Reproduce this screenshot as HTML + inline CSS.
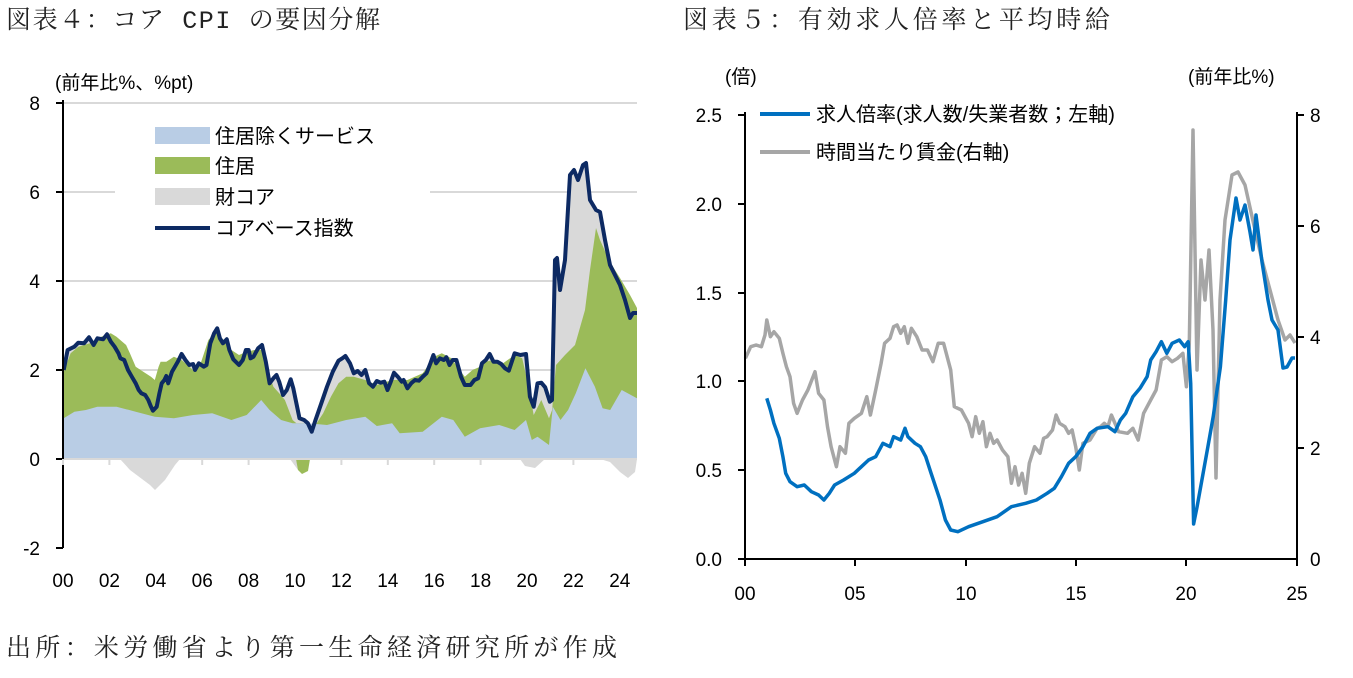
<!DOCTYPE html>
<html><head><meta charset="utf-8">
<style>
html,body{margin:0;padding:0;background:#fff;}
body{width:1353px;height:673px;overflow:hidden;position:relative;font-family:"Liberation Sans","Noto Sans CJK JP",sans-serif;}
svg text{font-family:"Liberation Sans","Noto Sans CJK JP",sans-serif;}
svg text.ser{font-family:"Liberation Mono","Noto Serif CJK SC",serif;}
</style></head><body>
<svg id="s" width="1353" height="673" viewBox="0 0 1353 673" xmlns="http://www.w3.org/2000/svg">
<text x="6" y="28" font-size="25" class="ser" fill="#222" textLength="374" lengthAdjust="spacing">図表４：コア CPI の要因分解</text>
<text x="683" y="28" font-size="25" class="ser" fill="#222" textLength="427" lengthAdjust="spacing">図表５：有効求人倍率と平均時給</text>
<text x="6" y="656" font-size="25" class="ser" fill="#222" textLength="611" lengthAdjust="spacing">出所：米労働省より第一生命経済研究所が作成</text>
<!-- left grid -->
<g stroke="#d9d9d9" stroke-width="2">
<line x1="63" y1="103" x2="637" y2="103"/><line x1="63" y1="192" x2="637" y2="192"/>
<line x1="63" y1="281" x2="637" y2="281"/><line x1="63" y1="370" x2="637" y2="370"/>
</g>
<g id="L"></g>
<line x1="63" y1="459" x2="637" y2="459" stroke="#d9d9d9" stroke-width="2"/>
<line x1="63" y1="100" x2="63" y2="548" stroke="#000" stroke-width="2"/>
<g stroke="#000" stroke-width="2"><line x1="56" y1="103" x2="63" y2="103"/><line x1="56" y1="192" x2="63" y2="192"/><line x1="56" y1="281" x2="63" y2="281"/><line x1="56" y1="370" x2="63" y2="370"/><line x1="56" y1="459" x2="63" y2="459"/><line x1="56" y1="548" x2="63" y2="548"/></g>
<g id="LT" stroke="#d9d9d9" stroke-width="2"></g>
<g font-size="19" fill="#000" text-anchor="end">
<text x="40" y="110">8</text><text x="40" y="199">6</text><text x="40" y="288">4</text><text x="40" y="377">2</text><text x="40" y="466">0</text><text x="40" y="555">-2</text>
</g>
<text x="55" y="89" font-size="19">(前年比%、%pt)</text>
<g id="LX" font-size="19" text-anchor="middle"></g>
<!-- left legend -->
<rect x="115" y="120" width="315" height="120" fill="#fff"/>
<rect x="155" y="127" width="55" height="17" fill="#b9cde5"/>
<rect x="155" y="157" width="55" height="17" fill="#9bbb59"/>
<rect x="155" y="188" width="55" height="17" fill="#d9d9d9"/>
<line x1="155" y1="228" x2="210" y2="228" stroke="#0d2a63" stroke-width="4"/>
<g font-size="20"><text x="215" y="143">住居除くサービス</text><text x="215" y="173">住居</text><text x="215" y="204">財コア</text><text x="215" y="235">コアベース指数</text></g>

<!-- right chart -->
<g id="R"></g>
<line x1="745" y1="112" x2="745" y2="559" stroke="#000" stroke-width="2"/>
<line x1="1297" y1="112" x2="1297" y2="559" stroke="#000" stroke-width="2"/>
<line x1="745" y1="559" x2="1297" y2="559" stroke="#000" stroke-width="2"/>
<g stroke="#000" stroke-width="2">
<line x1="738" y1="115" x2="745" y2="115"/><line x1="738" y1="204" x2="745" y2="204"/><line x1="738" y1="293" x2="745" y2="293"/><line x1="738" y1="381" x2="745" y2="381"/><line x1="738" y1="470" x2="745" y2="470"/><line x1="738" y1="559" x2="745" y2="559"/>
<line x1="1297" y1="115" x2="1304" y2="115"/><line x1="1297" y1="226" x2="1304" y2="226"/><line x1="1297" y1="337" x2="1304" y2="337"/><line x1="1297" y1="448" x2="1304" y2="448"/>
<line x1="745" y1="559" x2="745" y2="566"/><line x1="855" y1="559" x2="855" y2="566"/><line x1="966" y1="559" x2="966" y2="566"/><line x1="1076" y1="559" x2="1076" y2="566"/><line x1="1186" y1="559" x2="1186" y2="566"/><line x1="1297" y1="559" x2="1297" y2="566"/>
</g>
<g font-size="19" text-anchor="end">
<text x="722" y="122">2.5</text><text x="722" y="211">2.0</text><text x="722" y="300">1.5</text><text x="722" y="388">1.0</text><text x="722" y="477">0.5</text><text x="722" y="566">0.0</text>
</g>
<g font-size="19"><text x="1310" y="122">8</text><text x="1310" y="233">6</text><text x="1310" y="344">4</text><text x="1310" y="455">2</text><text x="1310" y="566">0</text></g>
<g font-size="19" text-anchor="middle"><text x="745" y="600">00</text><text x="855" y="600">05</text><text x="966" y="600">10</text><text x="1076" y="600">15</text><text x="1186" y="600">20</text><text x="1297" y="600">25</text></g>
<text x="725" y="83" font-size="19">(倍)</text>
<text x="1188" y="83" font-size="19">(前年比%)</text>
<line x1="760" y1="114" x2="810" y2="114" stroke="#0070c0" stroke-width="4"/>
<line x1="760" y1="152" x2="810" y2="152" stroke="#a6a6a6" stroke-width="4"/>
<g font-size="20"><text x="816" y="121">求人倍率(求人数/失業者数；左軸)</text><text x="816" y="159">時間当たり賃金(右軸)</text></g>
</svg>
<script>
var NS="http://www.w3.org/2000/svg";
function z1(a){return a.map(function(p){return [40+p[0]/2.613,300+p[1]/3];});}
function z2(a){return a.map(function(p){return [740+p[0]/2.8,300+p[1]/3];});}
function pts(a){return a.map(function(p){return p[0].toFixed(1)+","+p[1].toFixed(1);}).join(" ");}
function add(g,tag,attrs){var e=document.createElementNS(NS,tag);for(var k in attrs)e.setAttribute(k,attrs[k]);document.getElementById(g).appendChild(e);return e;}
function area(g,a,fill){var b=[[a[0][0],459]].concat(a).concat([[a[a.length-1][0],459]]);add(g,"polygon",{points:pts(b),fill:fill});}
var core=z1([[62,210],[72,150],[90,140],[100,128],[115,130],[128,112],[140,135],[150,115],[165,118],[175,103],[185,125],[195,140],[205,160],[210,175],[220,180],[230,210],[240,230],[250,250],[258,270],[265,280],[275,285],[283,300],[290,320],[295,332],[305,320],[312,280],[318,250],[325,240],[330,228],[335,250],[345,215],[360,185],[370,162],[380,180],[390,195],[400,192],[405,210],[415,190],[428,200],[435,195],[445,130],[455,100],[463,85],[470,115],[478,130],[488,118],[495,150],[505,178],[520,195],[530,180],[538,150],[545,150],[550,175],[558,170],[570,145],[580,135],[590,185],[600,250],[610,235],[618,225],[625,245],[635,285],[645,270],[655,238],[662,265],[670,310],[678,355],[690,360],[700,370],[710,395],[720,360],[735,310],[750,260],[765,215],[780,182],[790,175],[798,168],[810,190],[820,220],[830,213],[840,225],[850,210],[860,250],[870,260],[880,243],[890,248],[900,245],[908,270],[915,250],[925,218],[935,230],[945,245],[950,240],[960,265],[970,250],[980,240],[990,242],[1000,230],[1010,220],[1020,190],[1028,165],[1035,190],[1045,175],[1055,180],[1062,172],[1070,195],[1078,180],[1088,180],[1100,230],[1110,255],[1125,255],[1135,240],[1145,235],[1155,190],[1165,180],[1175,162],[1185,185],[1195,185],[1205,192],[1215,205],[1225,212],[1240,160],[1255,165],[1270,162],[1280,290],[1290,320],[1300,250],[1310,248],[1320,262],[1332,305]]).concat([[552,400],[555,260],[557,258],[560,290],[565,260],[570,175],[574,170],[578,180],[583,165],[586,163],[590,200],[596,210],[600,212],[605,240],[610,265],[615,275],[620,285],[625,300],[630,318],[633,313],[637,313]]);
var green=z1([[62,215],[80,160],[100,140],[130,130],[160,110],[185,100],[200,110],[215,125],[225,135],[235,160],[250,200],[270,215],[290,230],[300,240],[310,200],[315,185],[330,185],[350,170],[370,180],[400,210],[420,190],[440,120],[460,95],[480,120],[500,150],[520,165],[540,155],[560,150],[580,150],[595,210],[610,260],[625,280],[640,300],[660,360],[670,370],[690,370],[700,375],[720,375],[740,340],[760,290],[780,250],[800,230],[820,230],[850,240],[880,255],[920,240],[960,240],[1000,220],[1030,170],[1050,160],[1075,175],[1090,200],[1110,230],[1130,210],[1150,200],[1165,185],[1185,180],[1210,190],[1240,165],[1260,175],[1275,250],[1290,345],[1310,300],[1330,355],[1338,330]]).concat([[556,365],[565,355],[575,345],[585,310],[590,270],[596,228],[600,240],[610,262],[620,278],[630,295],[637,308]]);
var blue=z1([[62,355],[90,335],[120,330],[150,320],[200,320],[250,335],[300,350],[350,355],[400,345],[450,340],[500,360],[540,345],[578,300],[600,330],[630,360],[660,370],[700,370],[750,375],[800,360],[850,350],[880,378],[920,370],[940,400],[1000,395],[1050,350],[1080,360],[1110,410],[1150,385],[1200,375],[1240,390],[1270,360],[1285,420],[1300,410],[1330,435],[1340,320],[1360,360],[1380,330],[1400,280],[1425,205],[1450,260],[1470,325],[1490,330],[1520,270],[1560,295]]);
area("L",core.slice(),"#d9d9d9");
add("L","polygon",{points:pts([[63,459],[120,459],[130,470],[150,485],[155,490],[165,480],[175,465],[180,459],[290,459],[298,470],[305,472],[310,459],[520,459],[525,466],[535,468],[545,459],[600,459],[610,462],[620,472],[628,478],[635,472],[637,459]]),fill:"#d9d9d9"});
add("L","polygon",{points:pts([[296,459],[298,470],[302,474],[308,471],[310,459]]),fill:"#9bbb59"});
area("L",green,"#9bbb59");
area("L",blue,"#b9cde5");
add("L","polyline",{points:pts(core),fill:"none",stroke:"#0d2a63","stroke-width":4,"stroke-linejoin":"round"});
for(var y=0;y<=24;y+=2){var x=63+y*23.2;add("LT","line",{x1:x,y1:459,x2:x,y2:465});var t=add("LX","text",{x:x,y:587});t.textContent=(y<10?"0":"")+y;}
var gw=z2([[15,175],[30,140],[45,135],[60,140],[70,105],[75,60],[85,110],[95,95],[110,115],[120,160],[130,200],[140,230],[150,310],[160,340],[175,300],[190,270],[210,215],[220,280],[235,300],[245,380],[255,440],[270,500],[280,440],[295,460],[305,370],[320,355],[340,340],[355,290],[365,345],[380,270],[395,190],[405,130],[420,115],[430,80],[440,75],[450,100],[460,80],[470,130],[480,85],[495,110],[510,150],[525,150],[540,185],[555,130],[570,130],[590,210],[600,320],[620,330],[640,370],[650,410],[660,350],[670,400],[680,365],[690,440],[700,400],[710,430],[720,420],[735,450],[750,470],[760,550],[770,500],[780,555],[790,520],[800,580],[810,490],[825,440],[840,460],[850,415],[860,410],[875,390],[885,345],[895,370],[910,380],[920,400],[930,390],[940,440],[950,510],[960,430],[980,420],[1000,385],[1010,380],[1020,370],[1030,380],[1040,345],[1060,395],[1085,400],[1100,385],[1115,420],[1130,340],[1150,300],[1165,270],[1180,180],[1195,170],[1210,185],[1225,175],[1240,160],[1250,260],[1258,130]]).concat([[1193,130],[1197,370],[1201,260],[1205,300],[1209,250],[1213,330],[1216,478],[1220,300],[1225,220],[1232,175],[1238,172],[1245,185],[1255,230],[1262,260],[1270,290],[1278,320],[1285,340],[1290,335],[1295,343]]);
var bl=z2([[75,295],[85,330],[95,370],[110,415],[120,470],[128,520],[140,545],[160,560],[180,555],[200,575],[220,585],[235,600],[250,580],[265,555],[290,540],[320,520],[340,500],[360,480],[380,470],[400,430],[420,440],[430,410],[450,420],[462,385],[470,410],[490,430],[505,440],[520,470],[535,520],[560,600],[575,660],[590,690],[610,695],[640,680],[680,665],[720,650],[760,620],[800,610],[830,600],[860,580],[880,565],[900,530],[920,490],[940,470],[960,440],[980,400],[1000,385],[1030,380],[1050,395],[1065,360],[1080,340],[1100,290],[1120,265],[1140,230],[1150,180],[1165,155],[1180,125],[1195,160],[1210,130],[1230,120],[1245,140],[1255,125],[1262,250],[1270,672],[1280,620],[1300,500],[1310,440],[1325,350],[1345,200],[1360,0]]).concat([[1230,240],[1236,198],[1240,220],[1245,205],[1250,232],[1253,250],[1256,215],[1262,262],[1268,300],[1272,320],[1278,330],[1283,368],[1287,367],[1292,358],[1295,358]]);
add("R","polyline",{points:pts(gw),fill:"none",stroke:"#a6a6a6","stroke-width":3.5,"stroke-linejoin":"round"});
add("R","polyline",{points:pts(bl),fill:"none",stroke:"#0070c0","stroke-width":3.5,"stroke-linejoin":"round"});
</script>
</body></html>
